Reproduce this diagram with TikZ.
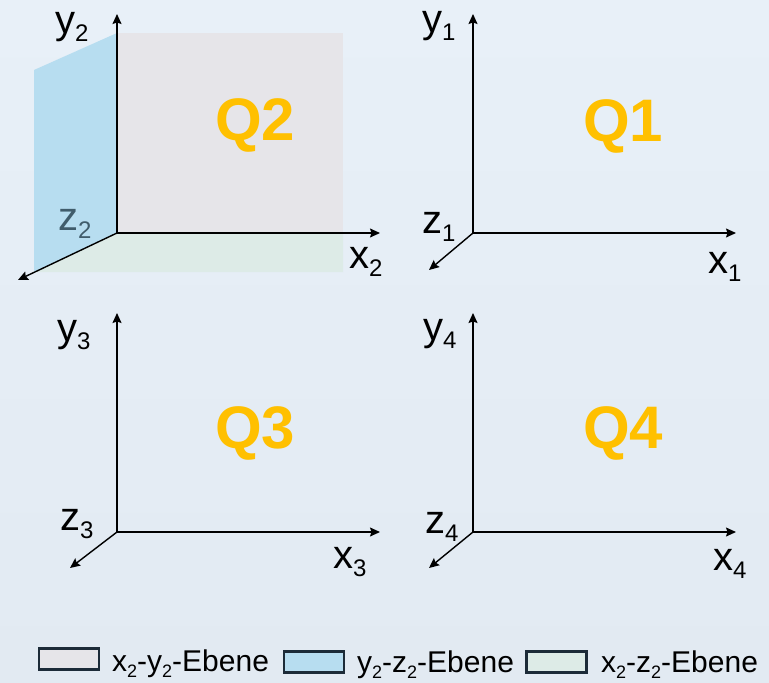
\documentclass[tikz,border=0pt]{standalone}
\usepackage{fontspec}
\setmainfont{Liberation Sans}
\usetikzlibrary{arrows.meta}
\definecolor{bgtop}{HTML}{E8F0F8}
\definecolor{bgbottom}{HTML}{E2EAF2}
\definecolor{qorange}{HTML}{FFC000}
\definecolor{xyplane}{HTML}{E6E5E9}
\definecolor{yzplane}{HTML}{B7DDF0}
\definecolor{xzplane}{HTML}{DDEBE7}
\definecolor{keyline}{HTML}{1C2B38}
\definecolor{zslate}{HTML}{405C6B}
\newcommand{\idx}[1]{\raisebox{-0.2em}{\scalebox{0.6}{#1}}}
\tikzset{
  axis/.style={-{Stealth[length=10pt, width=9pt, inset=1.5pt]}, line width=1.4pt, draw=black},
  axlbl/.style={anchor=base west, inner sep=0pt, font=\fontsize{40}{42}\selectfont},
  qlbl/.style={anchor=base west, inner sep=0pt, text=qorange, font=\fontsize{60}{60}\selectfont\bfseries},
  keybox/.style={draw=keyline, line width=2.4pt, fill=#1, minimum width=60pt, minimum height=21pt, inner sep=0pt},
  keytxt/.style={anchor=base west, inner sep=0pt, font=\fontsize{30}{32}\selectfont}
}
\begin{document}
\begin{tikzpicture}[x=1pt, y=-1pt]
  \fill[top color=bgtop, bottom color=bgbottom] (0,0) rectangle (769,683);
  \useasboundingbox (0,0) rectangle (769,683);
  % planes of Q2
  \fill[xyplane] (117,33) rectangle (343,233);
  \fill[xzplane] (117,233) -- (343,233) -- (343,272) -- (34,272) -- cycle;
  \fill[yzplane] (34,70) -- (117,33) -- (117,233) -- (34,272) -- cycle;
  % Q2
  \coordinate (o2) at (117,233);
  \coordinate (y2) at (117,14);
  \coordinate (x2) at (380,233);
  \coordinate (z2) at (18,280);
  \draw[axis] (o2) -- (y2);
  \draw[axis] (o2) -- (x2);
  \draw[axis] (o2) -- (z2);
  \node[axlbl] (ly2) at (55,33) {y\idx{2}};
  \node[axlbl, text=zslate] (lz2) at (58,230) {z\idx{2}};
  \node[axlbl] (lx2) at (349,268) {x\idx{2}};
  \node[qlbl] (q2) at (215,140) {Q2};
  % Q1
  \coordinate (o1) at (473,233);
  \coordinate (y1) at (473,14);
  \coordinate (x1) at (736,233);
  \coordinate (z1) at (429,270);
  \draw[axis] (o1) -- (y1);
  \draw[axis] (o1) -- (x1);
  \draw[axis] (o1) -- (z1);
  \node[axlbl] (ly1) at (422,32) {y\idx{1}};
  \node[axlbl] (lz1) at (422,233) {z\idx{1}};
  \node[axlbl] (lx1) at (708,273) {x\idx{1}};
  \node[qlbl] (q1) at (583,141) {Q1};
  % Q3
  \coordinate (o3) at (117,532);
  \coordinate (y3) at (117,313);
  \coordinate (x3) at (380,532);
  \coordinate (z3) at (70,568);
  \draw[axis] (o3) -- (y3);
  \draw[axis] (o3) -- (x3);
  \draw[axis] (o3) -- (z3);
  \node[axlbl] (ly3) at (57,341) {y\idx{3}};
  \node[axlbl] (lz3) at (60,530) {z\idx{3}};
  \node[axlbl] (lx3) at (333,568) {x\idx{3}};
  \node[qlbl] (q3) at (215,448) {Q3};
  % Q4
  \coordinate (o4) at (473,532);
  \coordinate (y4) at (473,313);
  \coordinate (x4) at (736,532);
  \coordinate (z4) at (429,568);
  \draw[axis] (o4) -- (y4);
  \draw[axis] (o4) -- (x4);
  \draw[axis] (o4) -- (z4);
  \node[axlbl] (ly4) at (423,340) {y\idx{4}};
  \node[axlbl] (lz4) at (425,533) {z\idx{4}};
  \node[axlbl] (lx4) at (713,570) {x\idx{4}};
  \node[qlbl] (q4) at (583,448) {Q4};
  % legend
  \node[keybox=xyplane] (kxy) at (69,659) {};
  \node[keytxt] (txy) at (112,671) {x\idx{2}-y\idx{2}-Ebene};
  \node[keybox=yzplane] (kyz) at (314,662) {};
  \node[keytxt] (tyz) at (357,672) {y\idx{2}-z\idx{2}-Ebene};
  \node[keybox=xzplane] (kxz) at (556.5,662) {};
  \node[keytxt] (txz) at (601,672) {x\idx{2}-z\idx{2}-Ebene};
\end{tikzpicture}
\end{document}
